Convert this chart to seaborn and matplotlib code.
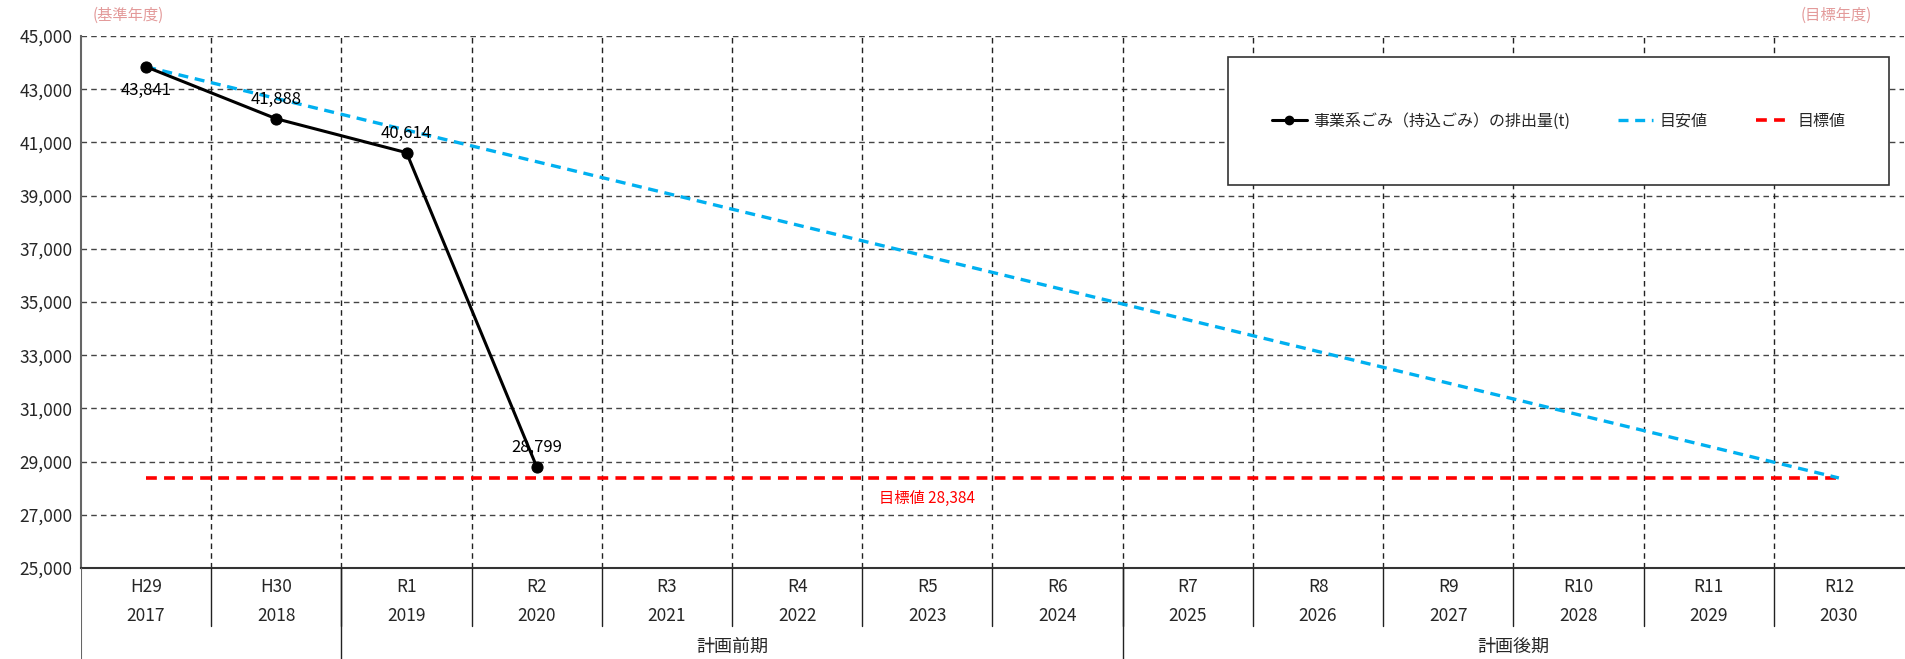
import matplotlib
matplotlib.use("Agg")
import matplotlib.pyplot as plt
import matplotlib.patches as mpatches
import matplotlib.lines as mlines
import pandas as pd
import seaborn as sns

# --- data ---
wareki = ["H29", "H30", "R1", "R2", "R3", "R4", "R5", "R6",
          "R7", "R8", "R9", "R10", "R11", "R12"]
years = ["2017", "2018", "2019", "2020", "2021", "2022", "2023", "2024",
         "2025", "2026", "2027", "2028", "2029", "2030"]
actual_years = ["2017", "2018", "2019", "2020"]
actual_values = [43841, 41888, 40614, 28799]
guide_years = ["2017", "2030"]
guide_values = [43841, 28384]
target_years = ["2017", "2030"]
target_values = [28384, 28384]
target_value = 28384
groups = [("計画前期", "2019", "2024"), ("計画後期", "2025", "2030")]

series_name = "事業系ごみ（持込ごみ）の排出量(t)"
guide_name = "目安値"
target_name = "目標値"

BLUE = "#00B0F0"
RED = "#FF0000"
PINK = "#E39A9A"

sns.set_theme(style="white")
plt.rcParams["font.family"] = ["Noto Sans CJK JP", "DejaVu Sans"]

pos = {y: i for i, y in enumerate(years)}
df_act = pd.DataFrame({"x": [pos[y] for y in actual_years], "val": actual_values})
df_guide = pd.DataFrame({"x": [pos[y] for y in guide_years], "val": guide_values})
df_target = pd.DataFrame({"x": [pos[y] for y in target_years], "val": target_values})

W, H = 1906, 659
fig = plt.figure(figsize=(W / 100, H / 100), dpi=100)

left, right, top, bottom = 81, 1904, 36, 568
ax = fig.add_axes([left / W, 1 - bottom / H, (right - left) / W, (bottom - top) / H])
ax_tab = fig.add_axes([left / W, 0, (right - left) / W, 1 - bottom / H])

n = len(years)
ax.set_xlim(-0.5, n - 0.5)
ax.set_ylim(25000, 45000)

# grid
for yv in range(27000, 45001, 2000):
    ax.axhline(yv, color="#444444", lw=1, ls=(0, (4, 3)), zorder=1)
for i in range(n - 1):
    ax.axvline(i + 0.5, color="#222222", lw=1, ls=(0, (4, 3)), zorder=1)

# lines
sns.lineplot(data=df_target, x="x", y="val", ax=ax, color=RED, lw=2.6,
             zorder=3)
ax.lines[-1].set_linestyle((0, (3, 2)))
sns.lineplot(data=df_guide, x="x", y="val", ax=ax, color=BLUE, lw=2.4,
             zorder=3)
ax.lines[-1].set_linestyle((0, (3, 2)))
sns.lineplot(data=df_act, x="x", y="val", ax=ax, color="black", lw=2.2,
             marker="o", markersize=8, markeredgecolor="black", zorder=4)

# data labels
for i, (x, v) in enumerate(zip(df_act["x"], df_act["val"])):
    off = -17 if i == 0 else 14
    ax.annotate(f"{v:,}", (x, v), xytext=(0, off), textcoords="offset points",
                ha="center", va="center", fontsize=12, color="black", zorder=5)
ax.annotate(f"{target_name} {target_value:,}", (pos["2023"], target_value),
            xytext=(0, -15), textcoords="offset points", ha="center",
            va="center", fontsize=11, color=RED)

# axes styling
ax.set_xticks([])
ax.set_yticks(range(25000, 45001, 2000))
ax.set_yticklabels([f"{v:,}" for v in range(25000, 45001, 2000)], fontsize=12.5)
ax.tick_params(axis="y", length=0, pad=6)
ax.set_xlabel("")
ax.set_ylabel("")
for s in ["top", "right"]:
    ax.spines[s].set_visible(False)
ax.spines["left"].set_color("#666666")
ax.spines["bottom"].set_color("#333333")
ax.spines["left"].set_linewidth(1.5)
ax.spines["bottom"].set_linewidth(1.5)

# legend box
ax.add_patch(mpatches.Rectangle((0.629, 0.72), 0.363, 0.24, transform=ax.transAxes,
                                facecolor="white", edgecolor="#333333", lw=1.2,
                                zorder=6))
handles = [
    mlines.Line2D([], [], color="black", lw=2.2, marker="o", markersize=6),
    mlines.Line2D([], [], color=BLUE, lw=2.4, ls=(0, (3, 2))),
    mlines.Line2D([], [], color=RED, lw=2.6, ls=(0, (3, 2))),
]
leg = ax.legend(handles, [series_name, guide_name, target_name], ncol=3,
                loc="center", bbox_to_anchor=(0.8105, 0.84), frameon=False,
                fontsize=11.5, handlelength=2.2, columnspacing=3.0,
                handletextpad=0.4)
leg.set_zorder(7)

# category table under the plot
ax_tab.set_xlim(-0.5, n - 0.5)
ax_tab.set_ylim(0, 91)
ax_tab.axis("off")
row_top, row_bot = 91, 33
for i in range(n - 1):
    ax_tab.plot([i + 0.5, i + 0.5], [row_bot, row_top], color="#222222", lw=1)
ax_tab.plot([-0.5, -0.5], [0, row_top], color="#666666", lw=1.5)
for name, a, b in groups:
    ax_tab.plot([pos[a] - 0.5, pos[a] - 0.5], [0, row_top], color="#222222", lw=1)
    ax_tab.text((pos[a] + pos[b]) / 2, 12, name, ha="center", va="center",
                fontsize=13)
for i, (w, y) in enumerate(zip(wareki, years)):
    ax_tab.text(i, 72, w, ha="center", va="center", fontsize=12.5)
    ax_tab.text(i, 43, y, ha="center", va="center", fontsize=12.5)

fig.text(128 / W, 1 - 15 / H, "(基準年度)", ha="center", va="center",
         fontsize=11, color=PINK)
fig.text(1836 / W, 1 - 15 / H, "(目標年度)", ha="center", va="center",
         fontsize=11, color=PINK)

fig.savefig("out.png", dpi=100)
